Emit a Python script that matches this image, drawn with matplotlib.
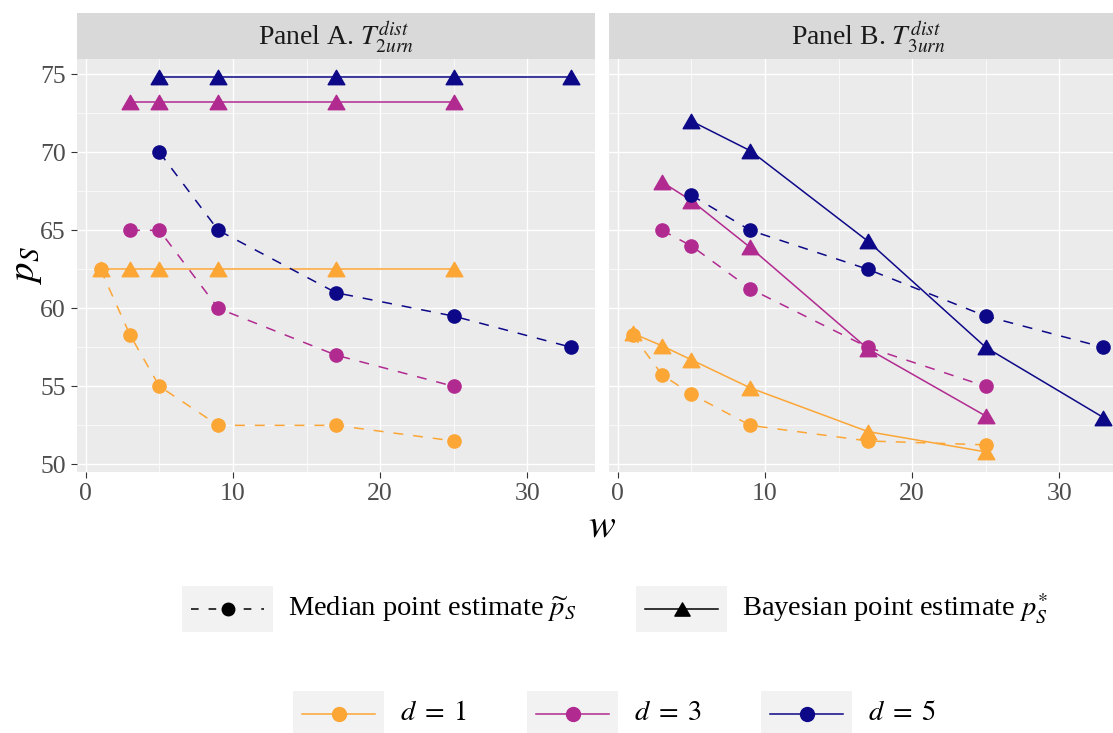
import numpy as np
import matplotlib
matplotlib.use("Agg")
import matplotlib.pyplot as plt
from matplotlib.path import Path

plt.rcParams['font.family'] = ['Liberation Serif', 'DejaVu Serif']
plt.rcParams['mathtext.fontset'] = 'stix'

# ---------------- data ----------------
w_d1 = [1, 3, 5, 9, 17, 25]
w_d3 = [3, 5, 9, 17, 25]
w_d5 = [5, 9, 17, 25, 33]

# Panel A
A_med_d1 = [62.5, 58.3, 55.0, 52.5, 52.5, 51.5]
A_bay_d1 = [62.5, 62.5, 62.5, 62.5, 62.5, 62.5]
A_med_d3 = [65.0, 65.0, 60.0, 57.0, 55.0]
A_bay_d3 = [73.2, 73.2, 73.2, 73.2, 73.2]
A_med_d5 = [70.0, 65.0, 61.0, 59.5, 57.5]
A_bay_d5 = [74.8, 74.8, 74.8, 74.8, 74.8]

# Panel B
B_med_d1 = [58.3, 55.75, 54.5, 52.5, 51.5, 51.25]
B_bay_d1 = [58.4, 57.6, 56.7, 54.9, 52.1, 50.8]
B_med_d3 = [65.0, 64.0, 61.25, 57.5, 55.0]
B_bay_d3 = [68.1, 66.9, 63.9, 57.4, 53.1]
B_med_d5 = [67.25, 65.0, 62.5, 59.5, 57.5]
B_bay_d5 = [72.0, 70.1, 64.3, 57.5, 53.0]

d_labels = [r"$d\;=\;1$", r"$d\;=\;3$", r"$d\;=\;5$"]
d_colors = ["#FCA636", "#B12A90", "#0D0887"]
panel_titles = [r"Panel A. $T_{2urn}^{dist}$", r"Panel B. $T_{3urn}^{dist}$"]
est_labels = [r"Median point estimate $\widetilde{p}_S$", r"Bayesian point estimate $p_S^{*}$"]
x_ticks = [0, 10, 20, 30]
y_ticks = [50, 55, 60, 65, 70, 75]

panels = [
    [(w_d1, A_med_d1, A_bay_d1), (w_d3, A_med_d3, A_bay_d3), (w_d5, A_med_d5, A_bay_d5)],
    [(w_d1, B_med_d1, B_bay_d1), (w_d3, B_med_d3, B_bay_d3), (w_d5, B_med_d5, B_bay_d5)],
]

# ---------------- layout ----------------
W, H = 1113, 733
fig = plt.figure(figsize=(W / 100, H / 100), dpi=100)

def fbox(x0, y0, x1, y1):
    return [x0 / W, 1 - y1 / H, (x1 - x0) / W, (y1 - y0) / H]

tri = Path([(-1, -0.866), (1, -0.866), (0, 0.866), (-1, -0.866)],
           [Path.MOVETO, Path.LINETO, Path.LINETO, Path.CLOSEPOLY])

PANEL_BG = "#EBEBEB"
STRIP_BG = "#D9D9D9"
KEY_BG = "#F2F2F2"
TICKC = "#4D4D4D"
lw = 1.1
dash = (6.5, 6.5)
msize_c = 9.5
msize_t = 12

panel_x = [(77, 595), (609, 1127)]
ptop, pbot = 59, 471.7
strip_top = 13.3

for i, (x0, x1) in enumerate(panel_x):
    ax = fig.add_axes(fbox(x0, ptop, x1, pbot))
    ax.set_facecolor(PANEL_BG)
    ax.set_xlim(-0.6, 34.6)
    ax.set_ylim(49.53, 75.98)
    ax.set_xticks(x_ticks)
    ax.set_yticks(y_ticks)
    ax.set_xticks([5, 15, 25], minor=True)
    ax.set_yticks([52.5, 57.5, 62.5, 67.5, 72.5], minor=True)
    ax.grid(which='major', color='white', lw=1.0)
    ax.grid(which='minor', color='white', lw=0.5)
    ax.set_axisbelow(True)
    for s in ax.spines.values():
        s.set_visible(False)
    ax.tick_params(which='major', length=4.5, width=0.8, color='#333333',
                   labelsize=18.5, labelcolor=TICKC, pad=3.5)
    ax.tick_params(which='minor', length=0)
    if i == 1:
        ax.tick_params(axis='y', which='both', length=0, labelleft=False)

    for (ws, med, bay), col in zip(panels[i], d_colors):
        ax.plot(ws, med, color=col, lw=lw, ls=(0, dash), zorder=2)
        ax.plot(ws, bay, color=col, lw=lw, ls='-', zorder=2)
    for (ws, med, bay), col in zip(panels[i], d_colors):
        ax.plot(ws, med, ls='none', marker='o', ms=msize_c, color=col, mec=col, zorder=3)
        ax.plot(ws, bay, ls='none', marker=tri, ms=msize_t, color=col, mec=col, zorder=3)

    sax = fig.add_axes(fbox(x0, strip_top, x1, ptop))
    sax.set_facecolor(STRIP_BG)
    sax.set_xticks([]); sax.set_yticks([])
    for s in sax.spines.values():
        s.set_visible(False)
    sax.text(0.5, 0.47, panel_titles[i], ha='center', va='center',
             fontsize=20, color='#1A1A1A', transform=sax.transAxes)

# axis titles
fig.text(602 / W, 1 - 527 / H, r"$w$", ha='center', va='center', fontsize=29)
fig.text(25 / W, 1 - 265 / H, r"$p_S$", ha='center', va='center', fontsize=28, rotation=90)

# ---------------- legends ----------------
def key(x0, y0, x1, y1, color, ls, marker, ms):
    kax = fig.add_axes(fbox(x0, y0, x1, y1))
    kax.set_facecolor(KEY_BG)
    kax.set_xlim(0, 1); kax.set_ylim(0, 1)
    kax.set_xticks([]); kax.set_yticks([])
    for s in kax.spines.values():
        s.set_visible(False)
    kax.plot([0.1, 0.9], [0.5, 0.5], color=color, lw=lw, ls=ls)
    kax.plot([0.5], [0.5], marker=marker, ms=ms, color=color, ls='none')
    return kax

# row 1: estimate type
key(182, 586, 273, 632, 'black', (0, (5.0, 6.5)), 'o', 9)
fig.text(288 / W, 1 - 609 / H, est_labels[0], ha='left', va='center', fontsize=20.5)
key(636, 586, 727, 632, 'black', '-', tri, 11)
fig.text(742 / W, 1 - 609 / H, est_labels[1], ha='left', va='center', fontsize=20.5)

# row 2: d
kx = [293, 527, 761]
for k, x in enumerate(kx):
    key(x, 691, x + 91, 737, d_colors[k], '-', 'o', 10)
    fig.text((x + 107) / W, 1 - 714 / H, d_labels[k], ha='left', va='center', fontsize=20.5)

fig.savefig("out.png", dpi=100)
